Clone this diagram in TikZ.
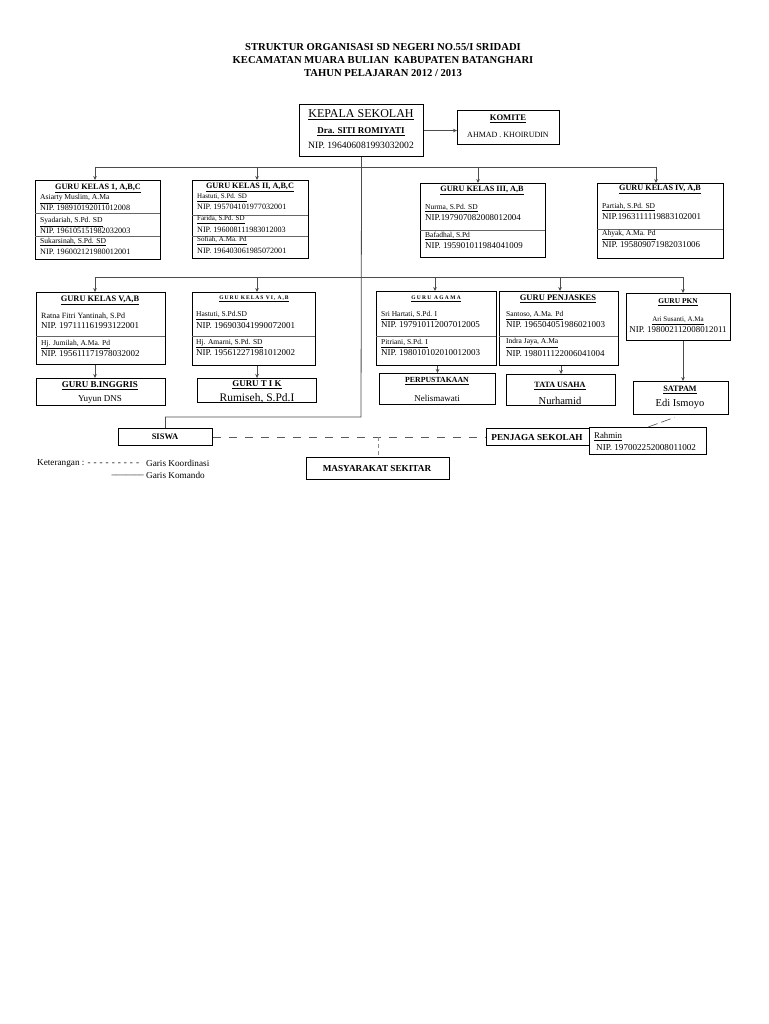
\documentclass[tikz,border=0pt]{standalone}
\usepackage{fontspec}
\setmainfont{Liberation Serif}
\usetikzlibrary{arrows.meta,calc}
\newcommand\fs[1]{\fontsize{#1}{#1}\selectfont}
\newcommand\hy{-\kern3.0pt}
\newcommand\bx[5]{\node[box,anchor=north west,minimum width=#4pt,minimum height=#5pt] (#1) at (#2,#3) {};}
\tikzset{
  box/.style={draw=black,line width=1.1pt,inner sep=0pt,rectangle},
  ln/.style={draw=black!70,line width=0.8pt},
  arr/.style={ln,-{Stealth[length=4pt,width=3.6pt]}},
  dv/.style={draw=black!60,line width=0.7pt},
  dsh/.style={draw=black!65,line width=0.8pt,dash pattern=on 8pt off 8pt},
  ct/.style={inner sep=0pt,anchor=center},
  lt/.style={inner sep=0pt,anchor=west},
  ttl/.style={ct,font=\fs{8.2}\bfseries},
  nm/.style={lt,font=\fs{7.5}},
  nip/.style={lt,font=\fs{9}},
}
\begin{document}
\begin{tikzpicture}[x=1pt,y=-1pt]
\useasboundingbox[fill=white] (0,0) rectangle (768,1024);
% title
\node[ct,font=\fs{10.6}\bfseries] (t1) at (383,47) {STRUKTUR ORGANISASI SD NEGERI NO.55/I SRIDADI};
\node[ct,font=\fs{10.6}\bfseries] (t2) at (383,60) {KECAMATAN MUARA BULIAN\ \ KABUPATEN BATANGHARI};
\node[ct,font=\fs{10.6}\bfseries] (t3) at (383,73) {TAHUN PELAJARAN 2012 / 2013};
% boxes
\bx{kepala}{299}{104}{124}{52}
\bx{komite}{457}{110}{102}{34}
\bx{g1}{35}{180}{125}{79}
\bx{g2}{192}{180}{116}{78}
\bx{g3}{420}{183}{125}{74}
\bx{g4}{597}{183}{126}{75}
\bx{g5}{36}{292}{129}{72}
\bx{g6}{192}{292}{123}{73}
\bx{agama}{376}{291}{120}{74}
\bx{penj}{499}{291}{119}{74}
\bx{pkn}{626}{293}{104}{47}
\bx{bing}{36}{378}{129}{27}
\bx{tik}{197}{378}{119}{24}
\bx{perp}{379}{373}{116}{31}
\bx{tu}{506}{374}{109}{31}
\bx{satpam}{633}{381}{95}{33}
\bx{siswa}{118}{428}{94}{17}
\bx{penjaga}{486}{428}{103}{17}
\bx{rahmin}{589}{427}{117}{27}
\bx{masy}{306}{457}{143}{22}
% dividers
\draw[dv] (35,213) -- (160,213);
\draw[dv] (35,236) -- (160,236);
\draw[dv] (192,215) -- (308,215);
\draw[dv] (192,236) -- (308,236);
\draw[dv] (420,230) -- (545,230);
\draw[dv] (597,229) -- (723,229);
\draw[dv] (36,336) -- (165,336);
\draw[dv] (192,336) -- (315,336);
\draw[dv] (376,336) -- (496,336);
\draw[dv] (499,336) -- (618,336);
% kepala
\node[ct,font=\fs{12}] (kp1) at (361,115) {\underline{KEPALA SEKOLAH}};
\node[ct,font=\fs{9}\bfseries] (kp2) at (361,132) {\underline{Dra. SITI ROMIYATI}};
\node[ct,font=\fs{9.6}] (kp3) at (361,145) {NIP. 196406081993032002};
\node[ct,font=\fs{8.6}\bfseries] (km1) at (508,119) {\underline{KOMITE}};
\node[ct,font=\fs{8}] (km2) at (508,135) {AHMAD . KHOIRUDIN};
% guru kelas 1
\node[ttl] (g1t) at (98,188) {\underline{GURU KELAS 1, A,B,C}};
\node[nm,font=\fs{7.6}] (g1a) at (40,199) {\underline{Asiarty Muslim, A.Ma}};
\node[nip,font=\fs{8.2}] (g1b) at (40,208) {NIP. 198910192011012008};
\node[nm,font=\fs{7.6}] (g1c) at (40,222) {\underline{Syadariah, S.Pd. SD}};
\node[nip,font=\fs{8.2}] (g1d) at (40,231) {NIP. 196105151982032003};
\node[nm,font=\fs{7.6}] (g1e) at (40,242) {\underline{Sukarsinah, S.Pd. SD}};
\node[nip,font=\fs{8.2}] (g1f) at (40,252) {NIP. 196002121980012001};
% guru kelas 2
\node[ttl] (g2t) at (250,187) {\underline{GURU KELAS II, A,B,C}};
\node[nm,font=\fs{7}] (g2a) at (197,197.5) {\underline{Hastuti, S.Pd. SD}};
\node[nip,font=\fs{8.1}] (g2b) at (197,206.5) {NIP. 195704101977032001};
\node[nm,font=\fs{7}] (g2c) at (197,220) {\underline{Farida, S.Pd. SD}};
\node[nip,font=\fs{8.1}] (g2d) at (197,229.5) {NIP. 196008111983012003};
\node[nm,font=\fs{7}] (g2e) at (197,241) {\underline{Sofiah, A.Ma. Pd}};
\node[nip,font=\fs{8.1}] (g2f) at (197,250.5) {NIP. 196403061985072001};
% guru kelas 3
\node[ttl] (g3t) at (482,190) {\underline{GURU KELAS III, A,B}};
\node[nm] (g3a) at (425,208) {\underline{Nurma, S.Pd. SD}};
\node[nip,font=\fs{8.9}] (g3b) at (425,217.5) {NIP.197907082008012004};
\node[nm] (g3c) at (425,236) {\underline{Bafadhal, S.Pd}};
\node[nip,font=\fs{8.9}] (g3d) at (425,246) {NIP. 195901011984041009};
% guru kelas 4
\node[ttl] (g4t) at (660,189) {\underline{GURU KELAS IV, A,B}};
\node[nm] (g4a) at (602,207) {\underline{Partiah, S.Pd. SD}};
\node[nip,font=\fs{8.9}] (g4b) at (602,217) {NIP.1963111119883102001};
\node[nm] (g4c) at (602,235) {\underline{Ahyak, A.Ma. Pd}};
\node[nip,font=\fs{8.9}] (g4d) at (602,245) {NIP. 195809071982031006};
% guru kelas 5
\node[ttl,font=\fs{8.4}\bfseries] (g5t) at (100,300) {\underline{GURU KELAS V,A,B}};
\node[nm,font=\fs{8}] (g5a) at (41,316) {Ratna Fitri Yantinah, S.Pd};
\node[nip] (g5b) at (41,326) {NIP. 197111161993122001};
\node[nm] (g5c) at (41,344.5) {\underline{Hj. Jumilah, A.Ma. Pd}};
\node[nip] (g5d) at (41,354) {NIP. 195611171978032002};
% guru kelas 6
\node[ttl,font=\fs{5.5}\bfseries\addfontfeature{LetterSpace=18}] (g6t) at (254,299) {\underline{GURU KELAS VI, A,B}};
\node[nm] (g6a) at (196,315.5) {\underline{Hastuti, S.Pd.SD}};
\node[nip] (g6b) at (196,326) {NIP. 196903041990072001};
\node[nm] (g6c) at (196,343.5) {\underline{Hj. Amarni, S.Pd. SD}};
\node[nip] (g6d) at (196,353) {NIP. 195612271981012002};
% guru agama
\node[ttl,font=\fs{5.5}\bfseries\addfontfeature{LetterSpace=24}] (agt) at (436,299) {\underline{GURU AGAMA}};
\node[nm] (aga) at (381,315.5) {\underline{Sri Hartati, S.Pd. I}};
\node[nip] (agb) at (381,325) {NIP. 197910112007012005};
\node[nm] (agc) at (381,343.5) {\underline{Pitriani, S.Pd. I}};
\node[nip] (agd) at (381,353) {NIP. 198010102010012003};
% guru penjaskes
\node[ttl,font=\fs{8.5}\bfseries] (pjt) at (558,299) {\underline{GURU PENJASKES}};
\node[nm] (pja) at (506,315.5) {\underline{Santoso, A.Ma. Pd}};
\node[nip] (pjb) at (506,325) {NIP. 196504051986021003};
\node[nm] (pjc) at (506,343) {\underline{Indra Jaya, A.Ma}};
\node[nip] (pjd) at (506,354) {NIP. 198011122006041004};
% guru pkn
\node[ttl,font=\fs{7.4}\bfseries] (pkt) at (678,302) {\underline{GURU PKN}};
\node[ct,font=\fs{7}] (pka) at (678,320.5) {\underline{Ari Susanti, A.Ma}};
\node[ct,font=\fs{8.9}] (pkb) at (678,329.5) {NIP. 198002112008012011};
% third row
\node[ttl,font=\fs{9}\bfseries] (bit) at (100,386) {\underline{GURU B.INGGRIS}};
\node[ct,font=\fs{9}] (bia) at (100,399) {Yuyun DNS};
\node[ttl,font=\fs{8.9}\bfseries] (tkt) at (257,385) {\underline{GURU T I K}};
\node[ct,font=\fs{11.5}] (tka) at (257,398) {Rumiseh, S.Pd.I};
\node[ttl,font=\fs{7.8}\bfseries] (ppt) at (437,381) {\underline{PERPUSTAKAAN}};
\node[ct,font=\fs{9}] (ppa) at (437,398) {Nelismawati};
\node[ttl,font=\fs{8.1}\bfseries] (tut) at (560,386) {\underline{TATA USAHA}};
\node[ct,font=\fs{10.5}] (tua) at (560,401) {Nurhamid};
\node[ttl,font=\fs{8.2}\bfseries] (spt) at (680,390) {\underline{SATPAM}};
\node[ct,font=\fs{10.5}] (spa) at (680,404) {Edi Ismoyo};
% bottom
\node[ct,font=\fs{8.5}\bfseries] (sst) at (165,437) {SISWA};
\node[ct,font=\fs{9.2}\bfseries] (pgt) at (537,437) {PENJAGA SEKOLAH};
\node[lt,font=\fs{8.8}] (rha) at (594,436.5) {\underline{Rahmin}};
\node[lt,font=\fs{9.1}] (rhb) at (596,447.5) {NIP. 197002252008011002};
\node[ct,font=\fs{9.2}\bfseries] (mst) at (377,468) {MASYARAKAT SEKITAR};
\node[lt,font=\fs{9.2}] (ket1) at (37,463) {Keterangan : \hy\hy\hy\hy\hy\hy\hy\hy-};
\node[lt,font=\fs{9.2}] (ket1b) at (146,463) {Garis Koordinasi};
\node[lt,font=\fs{9.2}] (ket2b) at (146,475) {Garis Komando};
\node[inner sep=0pt,anchor=east,font=\fs{9.2}] (ket2) at (144,475) {\_\_\_\_\_\_\_};
% connectors
\coordinate (tk) at (361,417);
\draw[ln] (kepala.south) -- (tk) -| (siswa.north);
\draw[arr] (kepala.east) -- (kepala.east -| komite.west);
\coordinate (r1a) at (95,167);
\coordinate (r1b) at (257,167);
\coordinate (r1c) at (478,167);
\coordinate (r1d) at (656,167);
\draw[ln] (r1a) -- (r1d);
\draw[arr] (r1a) -- (r1a |- g1.north);
\draw[arr] (r1b) -- (r1b |- g2.north);
\draw[arr] (r1c) -- (r1c |- g3.north);
\draw[arr] (r1d) -- (r1d |- g4.north);
\coordinate (r2a) at (95,277);
\coordinate (r2b) at (257,277);
\coordinate (r2c) at (435,277);
\coordinate (r2d) at (560,277);
\coordinate (r2e) at (683,277);
\draw[ln] (r2a) -- (r2e);
\draw[arr] (r2a) -- (r2a |- g5.north);
\draw[arr] (r2b) -- (r2b |- g6.north);
\draw[arr] (r2c) -- (r2c |- agama.north);
\draw[arr] (r2d) -- (r2d |- penj.north);
\draw[arr] (r2e) -- (r2e |- pkn.north);
\draw[arr] (r2a |- g5.south) -- (r2a |- bing.north);
\draw[arr] (tik.north |- g6.south) -- (tik.north);
\draw[arr] (perp.north |- agama.south) -- (perp.north);
\draw[arr] (tu.north |- penj.south) -- (tu.north);
\draw[arr] (r2e |- pkn.south) -- (r2e |- satpam.north);
\draw[dsh] (siswa.east) -- (penjaga.west);
\draw[dsh,dash pattern=on 4pt off 3pt,draw=black!45] (masy.north |- siswa.east) -- (masy.north);
\draw[ln,dash pattern=on 10pt off 4pt,line width=0.6pt] (rahmin.north) -- ($(rahmin.north)!0.8!(satpam.south)$);
\end{tikzpicture}
\end{document}
